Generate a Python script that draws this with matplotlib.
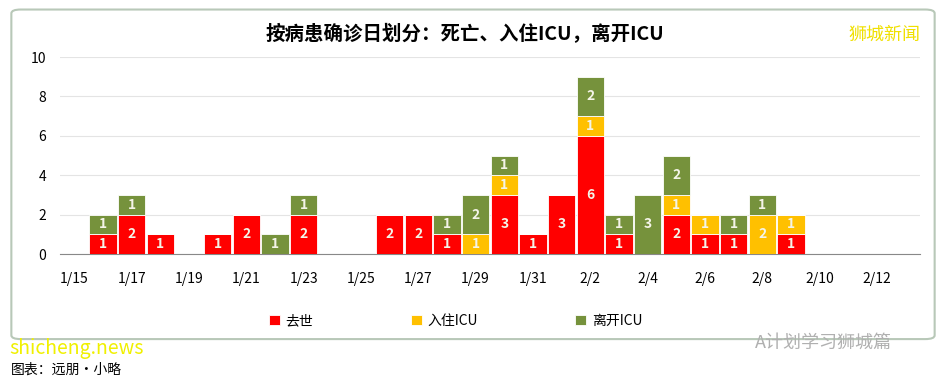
import numpy as np
import matplotlib.pyplot as plt
from matplotlib.patches import FancyBboxPatch

plt.rcParams['font.family'] = ['Noto Sans CJK SC', 'DejaVu Sans']

# dates 1/15 .. 2/13
dates = ["1/15", "1/16", "1/17", "1/18", "1/19", "1/20", "1/21", "1/22", "1/23", "1/24",
         "1/25", "1/26", "1/27", "1/28", "1/29", "1/30", "1/31", "2/1", "2/2", "2/3",
         "2/4", "2/5", "2/6", "2/7", "2/8", "2/9", "2/10", "2/11", "2/12", "2/13"]
death = [0, 1, 2, 1, 0, 1, 2, 0, 2, 0, 0, 2, 2, 1, 0, 3, 1, 3, 6, 1, 0, 2, 1, 1, 0, 1, 0, 0, 0, 0]
icu_in = [0, 0, 0, 0, 0, 0, 0, 0, 0, 0, 0, 0, 0, 0, 1, 1, 0, 0, 1, 0, 0, 1, 1, 0, 2, 1, 0, 0, 0, 0]
icu_out = [0, 1, 1, 0, 0, 0, 0, 1, 1, 0, 0, 0, 0, 1, 2, 1, 0, 0, 2, 1, 3, 2, 0, 1, 1, 0, 0, 0, 0, 0]

series = [("去世", death, "#FF0000"), ("入住ICU", icu_in, "#FFC000"), ("离开ICU", icu_out, "#76923C")]

fig = plt.figure(figsize=(9.46, 3.81), dpi=100)
fig.patch.set_facecolor("white")

# outer chart frame
frame = FancyBboxPatch((0.012, 0.11), 0.976, 0.865, boxstyle="round,pad=0,rounding_size=0.01",
                       transform=fig.transFigure, facecolor="white", edgecolor="#b8c8b8", lw=1.5,
                       zorder=-5)
fig.patches.append(frame)

ax = fig.add_axes([0.0634, 0.3333, 0.909, 0.517])
ax.set_zorder(2)
ax.patch.set_alpha(0)
x = np.arange(len(dates))
bottom = np.zeros(len(dates))
for name, vals, col in series:
    vals = np.array(vals)
    ax.bar(x, vals, 0.95, bottom=bottom, color=col, label=name, edgecolor="white", lw=0.6, zorder=3)
    for xi, v, b in zip(x, vals, bottom):
        if v > 0:
            ax.text(xi, b + v / 2, str(v), ha="center", va="center", color="#f4f4e8",
                    fontsize=10, fontweight="bold", zorder=4)
    bottom += vals

ax.set_xlim(-0.5, len(dates) - 0.5)
ax.set_ylim(0, 10)
ax.set_yticks(range(0, 11, 2))
ax.set_xticks(x[::2])
ax.set_xticklabels(dates[::2])
ax.grid(axis="y", color="#e4e4e4", lw=0.8, zorder=0)
for s in ["top", "right", "left"]:
    ax.spines[s].set_visible(False)
ax.spines["bottom"].set_color("#888888")
ax.tick_params(axis="both", length=0, labelsize=10)
ax.tick_params(axis="x", pad=13)
ax.tick_params(axis="y", pad=10)

fig.text(0.492, 0.91, "按病患确诊日划分：死亡、入住ICU，离开ICU", ha="center", va="center",
         fontsize=14, fontweight="bold")
fig.text(0.935, 0.91, "狮城新闻", ha="center", va="center", fontsize=13, color="#f0e000")

ax.legend(loc="upper center", bbox_to_anchor=(0.46, -0.24), ncol=3, frameon=False,
          fontsize=10, handlelength=0.8, handleheight=0.8, handletextpad=0.4, columnspacing=7)

fig.text(0.87, 0.10, "A计划学习狮城篇", ha="center", va="center", fontsize=13, color="#b0b0b0")
fig.text(0.012, 0.03, "图表：远朋•小略", ha="left", va="center", fontsize=10, color="black")
fig.text(0.01, 0.085, "shicheng.news", ha="left", va="center", fontsize=14, color="#f0f000")

fig.savefig("out.png", dpi=100)
